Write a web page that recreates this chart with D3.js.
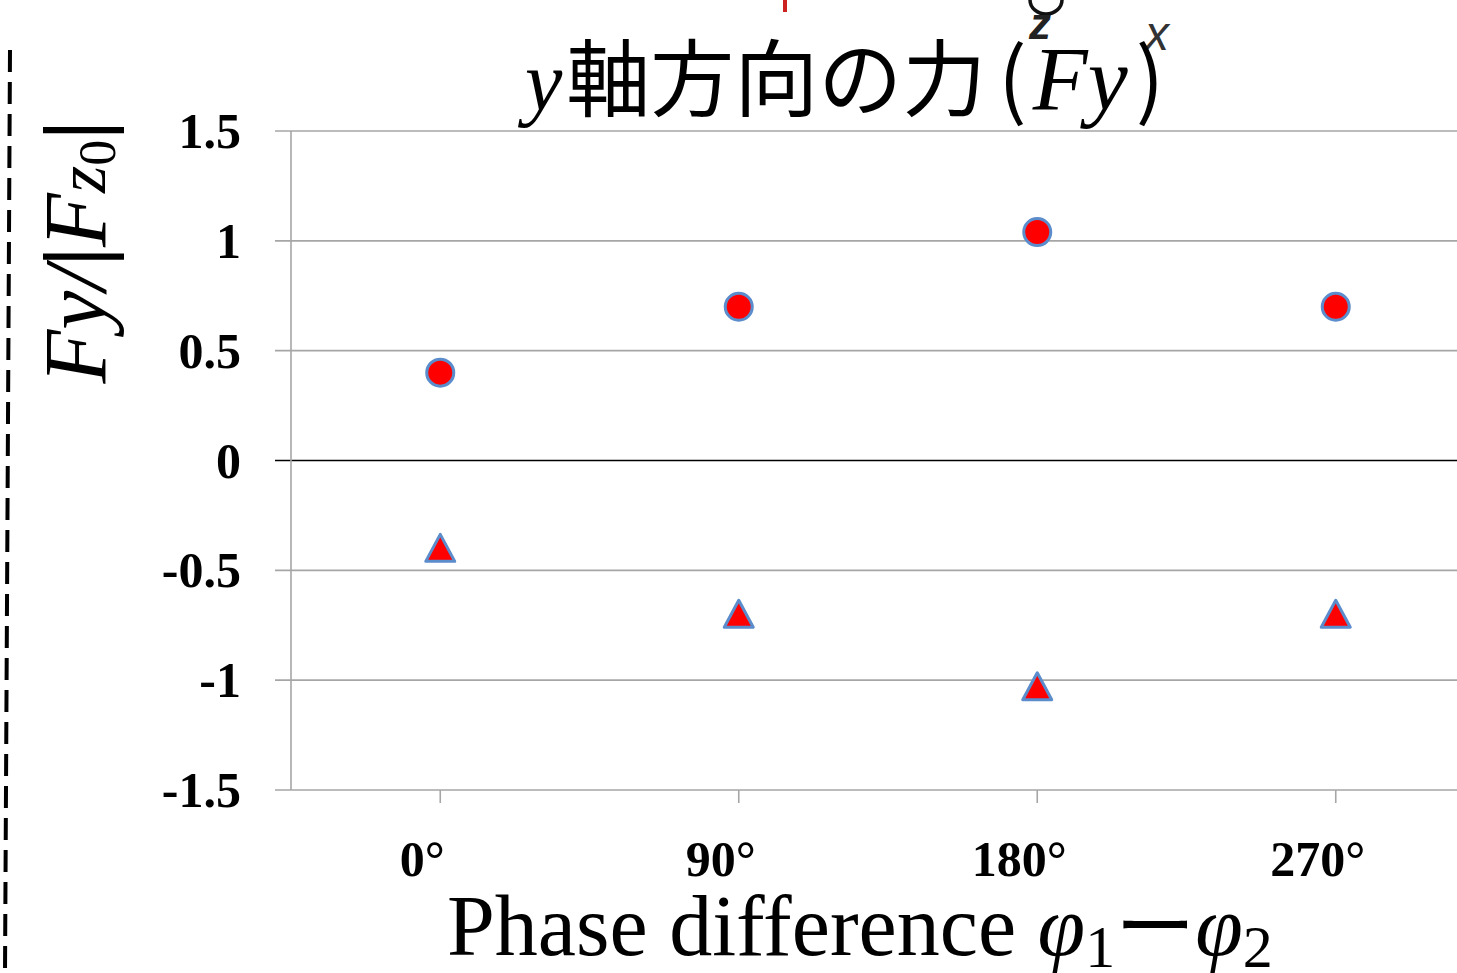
<!DOCTYPE html>
<html>
<head>
<meta charset="utf-8">
<script src="https://cdn.jsdelivr.net/npm/d3@7"></script>
<style>
  html, body { margin: 0; padding: 0; background: #fff; }
  svg { display: block; }
</style>
</head>
<body>
<svg id="chart" width="1457" height="973"></svg>
<script>
// ---- data ----
const categories = ["0°", "90°", "180°", "270°"];
const circleValues = [0.40, 0.70, 1.04, 0.70];
const triangleValues = [-0.40, -0.70, -1.03, -0.70];
const yTicks = [-1.5, -1, -0.5, 0, 0.5, 1, 1.5];
const yTickLabels = ["-1.5", "-1", "-0.5", "0", "0.5", "1", "1.5"];

const svg = d3.select("#chart");
const W = 1457, H = 973;
const plot = { left: 291, right: 1485, top: 131, bottom: 790 };

const x = d3.scaleBand().domain(categories).range([plot.left, plot.right]);
const y = d3.scaleLinear().domain([-1.5, 1.5]).range([plot.bottom, plot.top]);
const cx = d => x(d) + x.bandwidth() / 2;

const serif = "'Liberation Serif', 'Times New Roman', serif";
const cjk = "'Noto Sans CJK JP', 'Noto Sans CJK SC', sans-serif";
const sans = "'Liberation Sans', Arial, sans-serif";

// ---- stray fragments at the top edge (cropped figure above) ----
const frag = svg.append("g");
frag.append("line").attr("x1", 785).attr("y1", 0).attr("x2", 785).attr("y2", 12)
  .attr("stroke", "#cc2222").attr("stroke-width", 4);
frag.append("path").attr("d", "M1030,0 A16,14 0 0 0 1062,0")
  .attr("fill", "none").attr("stroke", "#111").attr("stroke-width", 3.5);
frag.append("text").attr("x", 1040).attr("y", 39).text("z")
  .attr("font-family", sans).attr("font-style", "italic").attr("font-weight", "bold")
  .attr("font-size", 44).attr("fill", "#222").attr("text-anchor", "middle");
frag.append("text").attr("x", 1157).attr("y", 50).text("x")
  .attr("font-family", sans).attr("font-style", "italic")
  .attr("font-size", 48).attr("fill", "#333").attr("text-anchor", "middle");

// ---- left dashed line ----
svg.append("line").attr("x1", 10).attr("y1", 50).attr("x2", 5).attr("y2", H)
  .attr("stroke", "#000").attr("stroke-width", 4).attr("stroke-dasharray", "22,10");

// ---- gridlines ----
const grid = svg.append("g");
grid.selectAll("line").data(yTicks).join("line")
  .attr("x1", 275).attr("x2", W)
  .attr("y1", d => y(d)).attr("y2", d => y(d))
  .attr("stroke", d => d === 0 ? "#000" : "#a6a6a6")
  .attr("stroke-width", 1.6);

// y axis line
svg.append("line").attr("x1", plot.left).attr("x2", plot.left)
  .attr("y1", plot.top).attr("y2", plot.bottom)
  .attr("stroke", "#a6a6a6").attr("stroke-width", 1.6);

// x tick marks
svg.append("g").selectAll("line").data(categories).join("line")
  .attr("x1", d => cx(d)).attr("x2", d => cx(d))
  .attr("y1", plot.bottom).attr("y2", plot.bottom + 13)
  .attr("stroke", "#a6a6a6").attr("stroke-width", 1.6);

// y tick labels
svg.append("g").selectAll("text").data(yTicks).join("text")
  .attr("x", 241).attr("y", d => y(d)).attr("dy", "0.34em")
  .attr("text-anchor", "end")
  .attr("font-family", serif).attr("font-weight", "bold").attr("font-size", 50)
  .text((d, i) => yTickLabels[i]);

// x tick labels
svg.append("g").selectAll("text").data(categories).join("text")
  .attr("x", d => cx(d) - 18).attr("y", 876)
  .attr("text-anchor", "middle")
  .attr("font-family", serif).attr("font-weight", "bold").attr("font-size", 50)
  .text(d => d);

// ---- markers ----
const markerStroke = "#5b8ccb";
svg.append("g").selectAll("circle").data(categories).join("circle")
  .attr("cx", d => cx(d)).attr("cy", (d, i) => y(circleValues[i]))
  .attr("r", 13.5)
  .attr("fill", "#ff0000").attr("stroke", markerStroke).attr("stroke-width", 3);

const tri = d3.line()([[0, -14], [14.5, 13], [-14.5, 13]]) + "Z";
svg.append("g").selectAll("path").data(categories).join("path")
  .attr("d", tri)
  .attr("transform", (d, i) => `translate(${cx(d)},${y(triangleValues[i])})`)
  .attr("fill", "#ff0000").attr("stroke", markerStroke).attr("stroke-width", 3)
  .attr("stroke-linejoin", "round");

// ---- title ----
const title = svg.append("text").attr("x", 525).attr("y", 110)
  .attr("text-anchor", "start").attr("font-size", 84);
title.append("tspan").attr("font-family", serif).attr("font-style", "italic").attr("font-size", 84).text("y");
title.append("tspan").attr("font-family", cjk).attr("font-weight", 400).attr("dx", 4).text("軸方向の力");
title.append("tspan").attr("font-family", cjk).attr("font-weight", 400).attr("dx", 12).text("(");
title.append("tspan").attr("font-family", serif).attr("font-style", "italic").attr("font-size", 90).attr("dx", 6).text("Fy");
title.append("tspan").attr("font-family", cjk).attr("font-weight", 400).attr("dx", 8).text(")");

// ---- y axis title ----
const yt = svg.append("text").attr("transform", "translate(105,252) rotate(-90)")
  .attr("text-anchor", "middle").attr("font-family", serif).attr("font-size", 88);
yt.append("tspan").attr("font-style", "italic").text("Fy/");
yt.append("tspan").attr("font-weight", "bold").text("|");
yt.append("tspan").attr("font-style", "italic").text("F");
yt.append("tspan").attr("font-style", "italic").attr("font-size", 70).text("z");
yt.append("tspan").attr("font-size", 52).attr("dy", 10).text("0");
yt.append("tspan").attr("font-weight", "bold").attr("dy", -10).text("|");

// ---- x axis title ----
const xt = svg.append("text").attr("x", 447).attr("y", 955)
  .attr("font-family", serif).attr("font-size", 86);
xt.append("tspan").text("Phase difference ");
xt.append("tspan").attr("font-style", "italic").text("φ");
xt.append("tspan").attr("font-size", 60).attr("dy", 12).text("1");
xt.append("tspan").attr("font-family", cjk).attr("font-size", 80).attr("dy", -12).text("ー");
xt.append("tspan").attr("font-style", "italic").text("φ");
xt.append("tspan").attr("font-size", 60).attr("dy", 12).text("2");
</script>
</body>
</html>
